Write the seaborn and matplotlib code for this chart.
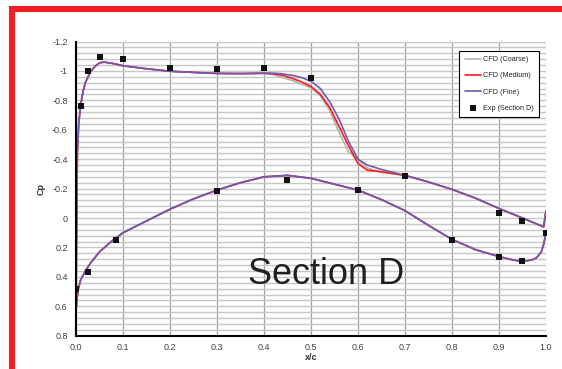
import numpy as np
import pandas as pd
import seaborn as sns
import matplotlib.pyplot as plt
from matplotlib.patches import Rectangle
from matplotlib.ticker import MultipleLocator

# upper surface, leading edge -> trailing edge
x_up = [0.0, 0.001, 0.003, 0.006, 0.01, 0.015, 0.02, 0.03, 0.04, 0.05, 0.06, 0.08, 0.10,
        0.15, 0.20, 0.25, 0.30, 0.35, 0.40, 0.42, 0.44, 0.46, 0.48, 0.50, 0.52, 0.54,
        0.56, 0.58, 0.60, 0.62, 0.65, 0.70, 0.75, 0.80, 0.85, 0.90, 0.95, 0.98, 0.995, 1.0]
cp_up_fine = [0.63, 0.2, -0.45, -0.65, -0.77, -0.86, -0.92, -0.99, -1.03, -1.055, -1.06, -1.05, -1.035,
              -1.015, -0.998, -0.99, -0.983, -0.982, -0.985, -0.985, -0.98, -0.97, -0.955, -0.93, -0.88, -0.79,
              -0.67, -0.52, -0.40, -0.36, -0.33, -0.29, -0.245, -0.195, -0.135, -0.065, 0.0, 0.04, 0.06, -0.05]
cp_up_medium = [0.63, 0.2, -0.45, -0.65, -0.77, -0.86, -0.92, -0.99, -1.03, -1.055, -1.06, -1.05, -1.035,
                -1.015, -0.998, -0.99, -0.983, -0.982, -0.985, -0.98, -0.97, -0.95, -0.925, -0.895, -0.84, -0.75,
                -0.62, -0.49, -0.37, -0.325, -0.315, -0.29, -0.245, -0.195, -0.135, -0.065, 0.0, 0.04, 0.06, -0.05]
cp_up_coarse = [0.63, 0.2, -0.45, -0.65, -0.77, -0.86, -0.92, -0.99, -1.03, -1.055, -1.06, -1.05, -1.035,
                -1.015, -0.998, -0.99, -0.983, -0.982, -0.98, -0.975, -0.955, -0.935, -0.91, -0.885, -0.83, -0.73,
                -0.58, -0.45, -0.40, -0.34, -0.31, -0.29, -0.245, -0.195, -0.135, -0.065, 0.0, 0.04, 0.06, -0.05]

# lower surface, leading edge -> trailing edge
x_lo = [0.0, 0.002, 0.005, 0.01, 0.02, 0.03, 0.05, 0.075, 0.10, 0.15, 0.20, 0.25, 0.30, 0.35,
        0.40, 0.45, 0.50, 0.55, 0.60, 0.65, 0.70, 0.75, 0.80, 0.85, 0.90, 0.93, 0.95, 0.97,
        0.98, 0.99, 0.995, 1.0]
cp_lo = [0.63, 0.55, 0.48, 0.42, 0.36, 0.31, 0.23, 0.16, 0.10, 0.02, -0.06, -0.13, -0.19, -0.24,
         -0.28, -0.29, -0.27, -0.23, -0.19, -0.125, -0.05, 0.05, 0.145, 0.215, 0.262, 0.285, 0.295, 0.285,
         0.27, 0.23, 0.18, 0.10]

# experiment
x_exp = [0.001, 0.011, 0.026, 0.051, 0.101, 0.20, 0.30, 0.40, 0.50, 0.70, 0.90, 0.95, 1.0,
         0.95, 0.90, 0.80, 0.60, 0.45, 0.30, 0.085, 0.026]
cp_exp = [0.485, -0.76, -1.0, -1.094, -1.083, -1.017, -1.016, -1.02, -0.953, -0.287, -0.034, 0.02, 0.099,
          0.294, 0.266, 0.151, -0.188, -0.256, -0.183, 0.146, 0.37]

series = [("CFD (Coarse)", cp_up_coarse, "#b4b4b4"),
          ("CFD (Medium)", cp_up_medium, "#ff1a1a"),
          ("CFD (Fine)", cp_up_fine, "#7059b5")]

sns.set_style("white")
plt.rcParams['font.family'] = ['Liberation Sans', 'DejaVu Sans']

fig = plt.figure(figsize=(5.62, 3.69), dpi=100)
ax = fig.add_axes([0.1352, 0.0902, 0.8363, 0.7973])

for name, cp_up, col in series:
    # closed loop: upper from TE to LE, then lower from LE to TE
    df = pd.DataFrame({"x": x_up[::-1] + x_lo, "cp": cp_up[::-1] + cp_lo})
    sns.lineplot(data=df, x="x", y="cp", sort=False, estimator=None, color=col,
                 lw=1.2, label=name, ax=ax)

sns.scatterplot(x=x_exp, y=cp_exp, marker="s", color="#111111", s=18, linewidth=0,
                label="Exp (Section D)", ax=ax, zorder=5)

ax.set_xlim(0, 1)
ax.set_ylim(0.8, -1.2)
ax.set_xticks(np.round(np.arange(0, 1.01, 0.1), 1))
ax.set_xticklabels([f"{v:.1f}" for v in np.arange(0, 1.01, 0.1)])
yt = np.round(np.arange(-1.2, 0.81, 0.2), 1)
ax.set_yticks(yt)
ax.set_yticklabels([f"{v + 0.0:g}" for v in yt])
ax.yaxis.set_minor_locator(MultipleLocator(0.04))

ax.grid(False)
ax.yaxis.grid(True, which="both", color="#c6c6c6", lw=1.0)
ax.xaxis.grid(True, which="major", color="#a0a0a0", lw=0.9)
ax.set_axisbelow(True)

for s in ["top", "right"]:
    ax.spines[s].set_visible(False)
for s in ["left", "bottom"]:
    ax.spines[s].set_color("black")
    ax.spines[s].set_linewidth(1.5)

ax.tick_params(which="both", length=0, labelsize=6.5, colors="#404040")
ax.tick_params(axis="y", pad=6)
ax.tick_params(axis="x", pad=5)

ax.set_xlabel("x/c", fontsize=6.5, fontweight="bold", color="#333333")
ax.set_ylabel("Cp", fontsize=6.5, fontweight="bold", color="#333333")
ax.xaxis.set_label_coords(0.5, -0.058)
ax.yaxis.set_label_coords(-0.064, 0.5)

ax.text(0.532, 0.385, "Section D", fontsize=26, color="#231f20",
        ha="center", va="center")

leg = ax.legend(loc="upper right", bbox_to_anchor=(0.985, 0.968), fontsize=5.2,
                frameon=True, fancybox=False, framealpha=1, edgecolor="black",
                handlelength=2.2, handletextpad=0.3, labelspacing=1.25,
                borderpad=0.75, borderaxespad=0)
leg.get_frame().set_linewidth(0.8)
for t in leg.get_texts():
    t.set_color("#222222")

fig.patches.append(Rectangle((12 / 562, -0.2), 1.2, 0.976 + 0.2, transform=fig.transFigure,
                             fill=False, edgecolor="#ed2024", lw=4.4, clip_on=False))

fig.savefig("out.png", dpi=100)
